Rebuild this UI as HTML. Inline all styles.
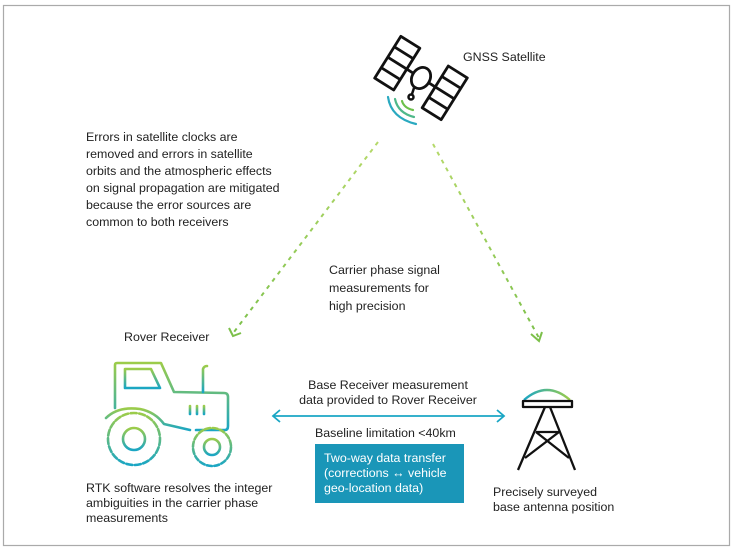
<!DOCTYPE html>
<html><head><meta charset="utf-8"><style>
body{margin:0;background:#fff;}
svg{display:block;font-family:"Liberation Sans",sans-serif;}
text{fill:#222;font-size:12.4px;}
</style></head><body>
<svg width="735" height="551" viewBox="0 0 735 551">
<defs>
<linearGradient id="gv" x1="0" y1="0" x2="0" y2="1"><stop offset="0" stop-color="#9ccc4a"/><stop offset="1" stop-color="#1aa6c4"/></linearGradient>
<linearGradient id="gh" x1="0" y1="0" x2="1" y2="0"><stop offset="0" stop-color="#1aa6c4"/><stop offset="1" stop-color="#9ccc4a"/></linearGradient>
<linearGradient id="gd" x1="0" y1="0" x2="0" y2="1"><stop offset="0" stop-color="#b5d96a"/><stop offset="1" stop-color="#7cc04a"/></linearGradient>
</defs>
<rect x="3.5" y="5.5" width="726" height="540" fill="none" stroke="#aaa" stroke-width="1.2"/>

<g fill="none" stroke="#111" stroke-width="2.5" stroke-linejoin="round">
<g transform="rotate(32 421 78) translate(421 78) scale(1.12) translate(-421 -78)">
<rect x="386" y="56" width="20" height="44"/><line x1="386" y1="67" x2="406" y2="67"/><line x1="386" y1="78" x2="406" y2="78"/><line x1="386" y1="89" x2="406" y2="89"/>
<rect x="436" y="56" width="20" height="44"/><line x1="436" y1="67" x2="456" y2="67"/><line x1="436" y1="78" x2="456" y2="78"/><line x1="436" y1="89" x2="456" y2="89"/>
<line x1="406" y1="78" x2="413" y2="78"/><line x1="429" y1="78" x2="436" y2="78"/>
<ellipse cx="421" cy="78" rx="8" ry="10"/>
</g>
<line x1="414" y1="88" x2="412" y2="94"/><circle cx="411" cy="97" r="2.5"/>
</g>
<g fill="none" stroke-width="2.2" stroke-linecap="round">
<path d="M402 101 Q404 108 413 110" stroke="#6cc04a"/>
<path d="M395 99 Q398 113 414 117" stroke="#4fb88a"/>
<path d="M388 97 Q391 118 416 124" stroke="#2aa9c0"/>
</g>
<text x="463" y="61">GNSS Satellite</text>

<line x1="378" y1="142" x2="234" y2="332" stroke="url(#gd)" stroke-width="2" stroke-dasharray="4,5"/>
<path d="M229 328 L233 336 L241 333" fill="none" stroke="#7cc04a" stroke-width="2"/>
<line x1="433" y1="144" x2="539" y2="338" stroke="url(#gd)" stroke-width="2" stroke-dasharray="4,5"/>
<path d="M531 334 L539 341 L542 332" fill="none" stroke="#7cc04a" stroke-width="2"/>

<g>
<text x="86" y="141">Errors in satellite clocks are</text>
<text x="86" y="158">removed and errors in satellite</text>
<text x="86" y="175">orbits and the atmospheric effects</text>
<text x="86" y="192">on signal propagation are mitigated</text>
<text x="86" y="209">because the error sources are</text>
<text x="86" y="226">common to both receivers</text>
</g>
<g>
<text x="329" y="274">Carrier phase signal</text>
<text x="329" y="292">measurements for</text>
<text x="329" y="310">high precision</text>
</g>
<text x="124" y="341">Rover Receiver</text>

<g fill="none" stroke="url(#gv)" stroke-width="2.6" stroke-linejoin="round" stroke-linecap="round">
<path d="M115 408 L115 365 Q115 363 117 363 L161 363 L174 392 L224 393 Q228 393 228 397 L228 426 Q228 430 225 430 L196 430"/>
<path d="M125 369 L151 369 L160 388 L125 388 Z"/>
<path d="M203 392 L203 369 Q204 366 207 366"/>
<path d="M190 406 L190 414 M197 406 L197 414 M204 406 L204 414"/>
<path d="M106 418 Q118 406 140 409 Q155 412 164 424 L190 430"/>
<circle cx="134" cy="439" r="26" stroke-dasharray="6,2.5"/>
<circle cx="134" cy="439" r="11"/>
<circle cx="212" cy="447" r="19" stroke-dasharray="5,2.5"/>
<circle cx="212" cy="447" r="8"/>
</g>

<g fill="none" stroke="#111" stroke-width="2.3" stroke-linejoin="round">
<path d="M524 400 Q547 380 570 400" stroke="url(#gh)" stroke-width="2.3"/>
<rect x="523" y="401" width="49" height="6"/>
<path d="M545 407 L518 470 M550 407 L575 470"/>
<path d="M536 432 L559 432 M536 432 L569 458 M559 432 L525 458"/>
</g>

<g fill="none" stroke="#1aa6c4" stroke-width="1.8">
<line x1="273" y1="416" x2="504" y2="416"/>
<path d="M280 410 L273 416 L280 422"/><path d="M497 410 L504 416 L497 422"/>
</g>
<g>
<text x="388" y="389" text-anchor="middle">Base Receiver measurement</text>
<text x="388" y="404" text-anchor="middle">data provided to Rover Receiver</text>
</g>
<text x="315" y="437">Baseline limitation &lt;40km</text>

<rect x="315" y="444" width="149" height="59" fill="#1a96b8"/>
<g>
<text x="324" y="462" style="fill:#fff">Two-way data transfer</text>
<text x="324" y="477" style="fill:#fff">(corrections ↔ vehicle</text>
<text x="324" y="492" style="fill:#fff">geo-location data)</text>
</g>

<g>
<text x="86" y="492">RTK software resolves the integer</text>
<text x="86" y="507">ambiguities in the carrier phase</text>
<text x="86" y="522">measurements</text>
</g>
<g>
<text x="493" y="496">Precisely surveyed</text>
<text x="493" y="511">base antenna position</text>
</g>
</svg>
</body></html>
